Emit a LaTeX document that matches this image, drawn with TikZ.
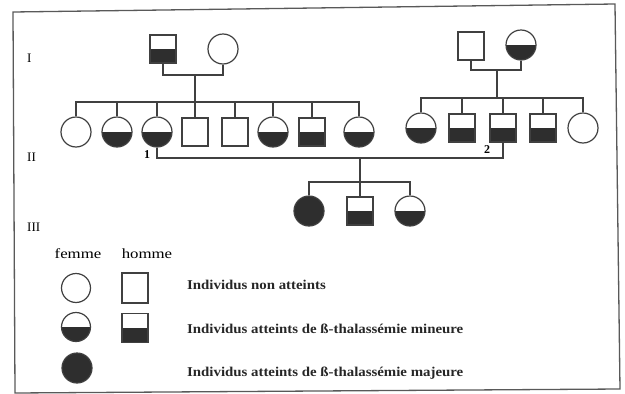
\documentclass[tikz,border=0pt]{standalone}
\usepackage{fontspec}
\setmainfont{Liberation Serif}
\newfontfamily\widefont[FakeStretch=1.2]{Liberation Serif}
\newfontfamily\legfont[FakeStretch=1.1]{Liberation Serif}
\begin{document}
\begin{tikzpicture}[x=1pt,y=-1pt,
  ln/.style={line width=1.2pt, draw=black!75},
  fem/.style={circle, ln, minimum size=30pt, inner sep=0pt},
  mal/.style={rectangle, ln, minimum width=26pt, minimum height=28pt, inner sep=0pt},
  carrier/.style={path picture={\fill[black!82] (path picture bounding box.west) rectangle (path picture bounding box.south east);}},
  sick/.style={fill=black!82},
  gen/.style={anchor=west, inner sep=0pt, font=\fontsize{13}{13}\selectfont},
  num/.style={inner sep=0pt, font=\fontsize{12}{12}\selectfont\bfseries},
  sex/.style={inner sep=0pt, font=\widefont\fontsize{14}{14}\selectfont},
  legtext/.style={anchor=west, inner sep=0pt, font=\legfont\bfseries\fontsize{13.5}{13.5}\selectfont, text=black!85}]
\useasboundingbox (0,0) rectangle (625,394);
% frame
\draw[line width=1.3pt, draw=black!65] (13,12) -- (615,4) -- (620,389) -- (15,393) -- cycle;

% generation labels
\node[gen] (gI) at (27,58) {I};
\node[gen] (gII) at (27,157) {II};
\node[gen] (gIII) at (27,227) {III};

% generation I
\node[mal, carrier] (p1) at (163,49) {};
\node[fem] (p2) at (223,49) {};
\node[mal] (q1) at (471,46) {};
\node[fem, carrier] (q2) at (521,45) {};

% generation II left
\node[fem] (a1) at (76,132) {};
\node[fem, carrier] (a2) at (117,132) {};
\node[fem, carrier] (a3) at (157,132) {};
\node[mal] (a4) at (195,132) {};
\node[mal] (a5) at (235,132) {};
\node[fem, carrier] (a6) at (273,132) {};
\node[mal, carrier] (a7) at (312,132) {};
\node[fem, carrier] (a8) at (359,132) {};

% generation II right
\node[fem, carrier] (b1) at (421,128) {};
\node[mal, carrier] (b2) at (462,128) {};
\node[mal, carrier] (b3) at (503,128) {};
\node[mal, carrier] (b4) at (543,128) {};
\node[fem] (b5) at (583,128) {};

% generation III
\node[fem, sick] (c1) at (309,211) {};
\node[mal, carrier] (c2) at (360,211) {};
\node[fem, carrier] (c3) at (410,211) {};

% junction coordinates
\coordinate (m1) at (195,75);
\coordinate (s1) at (195,102);
\coordinate (m2) at (497,70);
\coordinate (s2) at (497,98);
\coordinate (m3) at (360,158);
\coordinate (s3) at (360,182);

% connectors gen I -> II left
\draw[ln] (p1.south) |- (m1) -| (p2.south);
\draw[ln] (m1) -- (s1);
\foreach \k in {a1,a2,a3,a4,a5,a6,a7,a8} \draw[ln] (\k.north) |- (s1);
% connectors gen I -> II right
\draw[ln] (q1.south) |- (m2) -| (q2.south);
\draw[ln] (m2) -- (s2);
\foreach \k in {b1,b2,b3,b4,b5} \draw[ln] (\k.north) |- (s2);
% marriage gen II
\draw[ln] (a3.south) |- (m3) -| (b3.south);
\draw[ln] (m3) -- (s3);
\foreach \k in {c1,c2,c3} \draw[ln] (\k.north) |- (s3);

\node[num] (n1) at (147,155) {1};
\node[num] (n2) at (487,150) {2};

% legend
\node[sex] (lf) at (78,254) {femme};
\node[sex] (lh) at (147,254) {homme};
\node[fem, minimum size=29pt] (l1) at (76,288) {};
\node[mal, minimum height=30pt] (l2) at (135,288) {};
\node[fem, carrier, minimum size=29pt] (l3) at (76,327) {};
\node[mal, carrier, minimum height=29pt] (l4) at (135,328) {};
\node[fem, sick] (l5) at (77,368) {};
\node[legtext] (t1) at (187,285) {Individus non atteints};
\node[legtext] (t2) at (187,329) {Individus atteints de ß-thalassémie mineure};
\node[legtext] (t3) at (187,373) {Individus atteints de ß-thalassémie majeure};
\end{tikzpicture}
\end{document}
